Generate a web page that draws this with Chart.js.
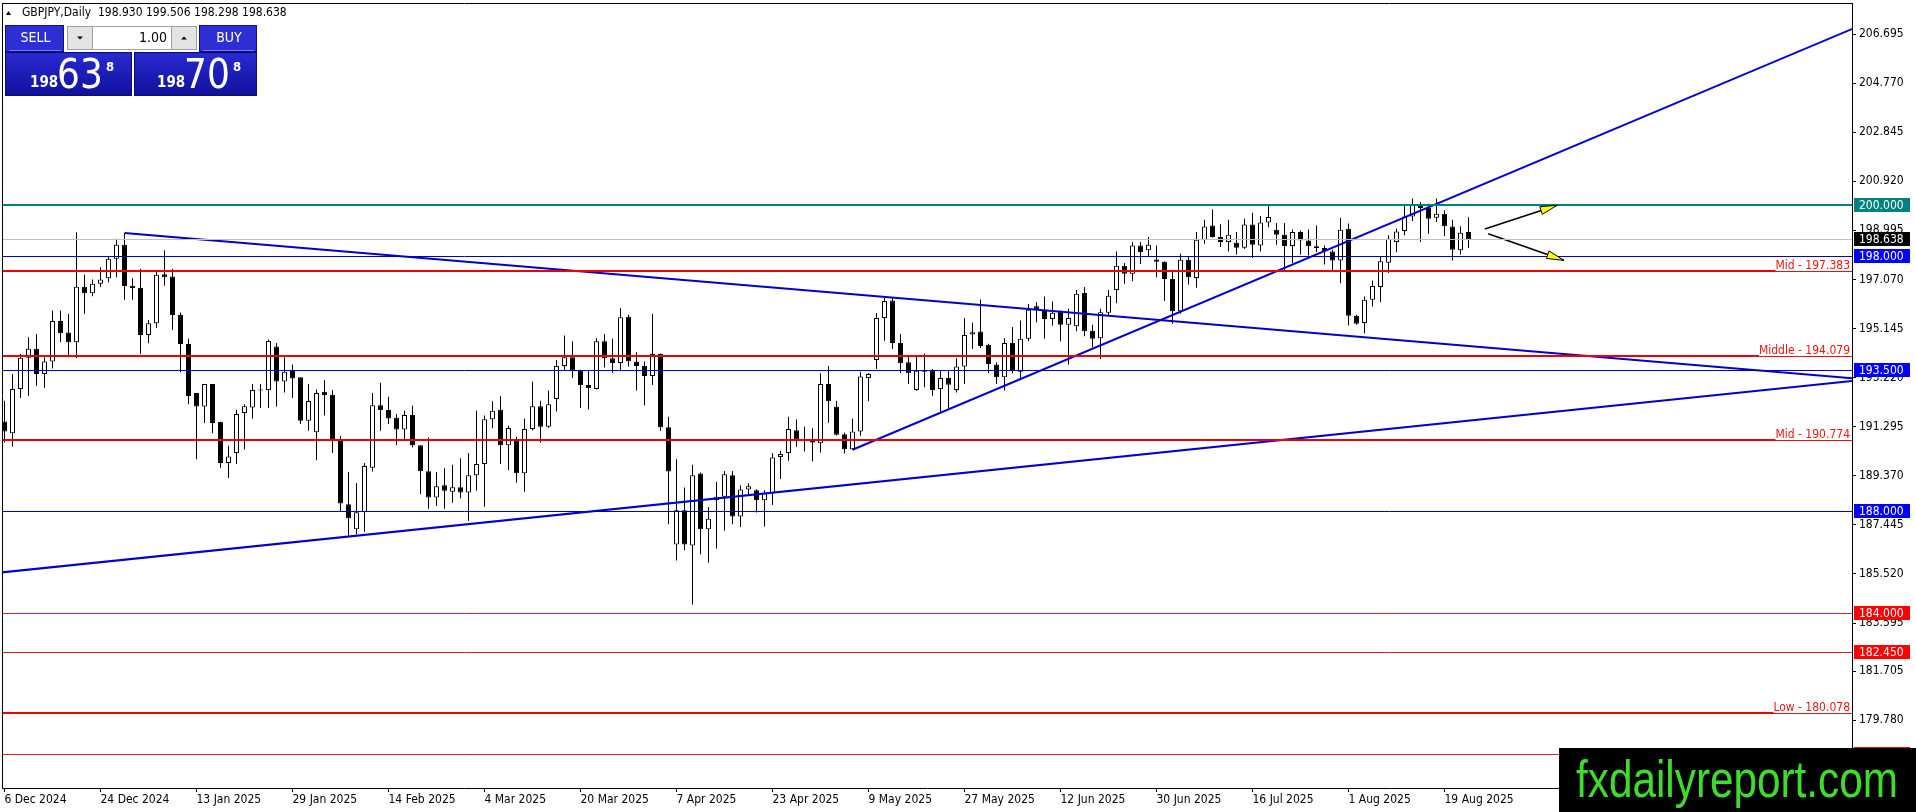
<!DOCTYPE html>
<html>
<head>
<meta charset="utf-8">
<title>GBPJPY Daily</title>
<script src="https://cdn.jsdelivr.net/npm/chart.js@4.4.1/dist/chart.umd.min.js"></script>
<style>
  html, body { margin: 0; padding: 0; background: #fff; overflow: hidden; }
  #wrap { position: relative; width: 1916px; height: 812px; }
</style>
</head>
<body>
<div id="wrap"><canvas id="chart"></canvas></div>
<script>
// daily candles, 6 Dec 2024 .. 22 Aug 2025
const opens = [
  191.50, 191.04, 192.77, 194.00, 194.35, 193.36, 193.85, 195.44, 194.99, 194.61, 196.78, 196.53,
  196.90, 197.12, 197.88, 198.43, 196.82, 196.74, 194.89, 195.35, 197.27, 197.19, 195.68, 194.54,
  192.62, 192.09, 192.97, 191.49, 189.87, 190.26, 191.83, 192.05, 192.71, 192.73, 194.44, 193.07,
  193.52, 193.23, 191.53, 191.08, 192.67, 192.55, 190.81, 188.25, 187.27, 187.94, 189.69, 192.14,
  191.95, 191.65, 191.19, 191.75, 190.57, 189.55, 188.52, 189.00, 188.74, 188.92, 188.71, 189.39,
  189.83, 191.59, 191.96, 190.57, 190.74, 189.47, 191.20, 192.10, 191.29, 192.38, 193.68, 194.02,
  193.49, 192.93, 192.77, 194.65, 193.98, 193.79, 195.61, 193.85, 193.68, 193.28, 194.15, 191.27,
  186.68, 188.02, 186.64, 189.46, 187.27, 188.42, 188.55, 189.39, 187.77, 188.83, 188.80, 188.41,
  188.69, 190.11, 190.26, 191.16, 190.81, 190.74, 190.65, 192.97, 192.08, 191.00, 190.41, 191.11,
  193.20, 193.91, 195.56, 196.24, 194.58, 193.82, 192.73, 193.47, 193.49, 192.77, 193.20, 192.73,
  193.66, 194.91, 195.03, 194.51, 193.73, 193.23, 194.58, 193.45, 194.74, 196.02, 195.88, 195.52,
  195.81, 195.29, 195.23, 196.54, 195.06, 194.76, 195.76, 196.66, 197.61, 197.29, 198.40, 198.21,
  197.85, 197.76, 197.09, 195.82, 197.84, 197.13, 198.63, 199.19, 198.73, 198.54, 198.51, 198.31,
  199.22, 198.40, 199.30, 199.02, 198.82, 198.38, 198.93, 198.60, 198.37, 198.30, 198.17, 197.81,
  199.06, 195.65, 195.36, 196.27, 196.77, 197.72, 198.54, 198.97, 199.54, 200.02, 199.88, 199.49,
  199.65, 199.15, 198.21, 198.930
];
const highs = [
  192.31, 193.36, 194.15, 194.80, 194.93, 194.02, 195.85, 195.85, 195.72, 198.92, 197.25, 197.07,
  197.55, 197.97, 198.67, 198.89, 197.12, 197.49, 195.48, 197.38, 198.21, 197.49, 195.77, 194.74,
  192.62, 192.97, 192.97, 191.49, 190.55, 191.96, 192.18, 192.97, 192.97, 194.71, 194.58, 194.02,
  193.73, 193.23, 192.97, 192.75, 193.13, 192.73, 190.93, 189.52, 189.09, 189.87, 192.62, 193.02,
  192.47, 191.79, 191.92, 192.12, 190.57, 190.87, 189.52, 189.67, 189.80, 190.06, 190.26, 191.92,
  191.73, 192.29, 192.50, 191.33, 190.90, 191.62, 193.06, 192.31, 192.71, 193.91, 194.87, 194.65,
  193.53, 193.53, 194.76, 194.93, 194.74, 195.95, 195.69, 194.21, 193.85, 195.72, 194.17, 191.69,
  190.02, 188.91, 189.80, 189.50, 188.15, 189.14, 189.56, 189.56, 189.00, 189.08, 188.84, 188.80,
  190.26, 190.35, 191.69, 191.58, 191.29, 191.23, 193.39, 193.68, 192.31, 191.07, 191.62, 193.45,
  193.40, 195.75, 196.35, 196.35, 194.93, 194.04, 194.04, 194.17, 193.56, 193.52, 193.53, 193.98,
  195.56, 195.37, 196.28, 194.55, 193.82, 194.76, 195.20, 195.46, 196.11, 196.18, 196.40, 196.20,
  195.85, 195.92, 196.66, 196.77, 195.29, 195.92, 196.66, 198.17, 197.71, 198.54, 198.54, 198.73,
  198.40, 197.78, 197.45, 198.08, 197.95, 198.93, 199.41, 199.81, 199.23, 199.41, 198.93, 199.45,
  199.69, 199.56, 199.95, 199.28, 199.28, 199.03, 198.99, 199.03, 199.19, 198.40, 198.23, 199.49,
  199.26, 195.69, 196.40, 197.03, 197.97, 198.80, 199.06, 200.04, 200.24, 200.11, 200.04, 200.24,
  199.78, 199.41, 199.16, 199.506
];
const lows = [
  190.68, 190.52, 192.42, 192.50, 192.90, 192.81, 193.58, 194.61, 194.02, 193.99, 195.72, 196.41,
  196.77, 196.96, 197.16, 196.27, 196.27, 194.15, 194.57, 195.17, 196.82, 195.09, 193.43, 192.18,
  190.02, 191.44, 191.04, 189.69, 189.28, 189.83, 190.40, 191.61, 192.03, 192.03, 192.09, 192.64,
  192.42, 191.40, 191.14, 189.98, 191.73, 190.26, 187.99, 187.01, 187.08, 187.17, 189.54, 191.14,
  191.40, 190.57, 190.81, 190.48, 188.65, 188.08, 188.19, 188.08, 188.31, 188.49, 187.60, 188.78,
  188.16, 191.23, 189.83, 189.59, 189.10, 188.74, 191.15, 190.68, 191.25, 191.89, 193.52, 193.20,
  192.03, 191.97, 192.75, 193.62, 193.41, 193.47, 193.66, 192.71, 192.13, 192.93, 191.13, 187.47,
  186.05, 186.45, 184.32, 186.29, 185.96, 186.52, 187.21, 187.47, 187.36, 188.65, 187.93, 187.38,
  188.22, 189.24, 189.96, 190.51, 190.32, 189.93, 190.28, 191.45, 190.95, 190.24, 190.39, 190.94,
  192.29, 193.56, 194.67, 194.34, 193.39, 192.97, 192.70, 192.84, 192.51, 191.86, 191.99, 192.64,
  192.97, 194.34, 194.38, 193.39, 192.97, 192.71, 193.39, 193.19, 194.65, 195.39, 194.74, 195.25,
  194.65, 193.73, 195.04, 194.84, 194.41, 193.95, 195.65, 196.14, 196.90, 197.00, 197.68, 197.95,
  197.16, 196.22, 195.33, 195.72, 196.87, 196.74, 198.47, 198.71, 198.34, 198.17, 198.05, 198.26,
  197.91, 198.17, 199.12, 198.43, 197.42, 197.71, 198.05, 198.01, 198.14, 197.66, 197.40, 196.92,
  195.26, 195.29, 194.96, 196.01, 196.18, 197.32, 198.14, 198.80, 199.36, 198.54, 198.86, 199.32,
  198.77, 197.81, 198.05, 198.298
];
const closes = [
  191.11, 192.77, 194.00, 194.35, 193.36, 193.85, 195.44, 194.96, 194.61, 196.78, 196.53, 196.90,
  197.07, 197.88, 198.43, 196.81, 196.73, 194.89, 195.35, 197.25, 197.16, 195.68, 194.54, 192.50,
  192.09, 192.97, 191.44, 189.87, 190.13, 191.79, 192.10, 192.73, 192.75, 194.66, 193.07, 193.45,
  193.19, 191.53, 192.30, 192.62, 192.54, 190.80, 188.28, 187.70, 187.94, 189.75, 192.14, 191.95,
  191.62, 191.19, 191.75, 190.57, 189.55, 188.52, 188.96, 188.78, 188.92, 188.71, 189.39, 189.83,
  191.59, 191.92, 190.57, 191.24, 189.47, 191.20, 192.10, 191.29, 192.18, 193.68, 194.02, 193.49,
  192.93, 192.80, 194.65, 193.98, 193.79, 195.59, 193.86, 193.68, 193.28, 194.15, 191.27, 189.54,
  188.02, 186.68, 189.39, 187.27, 187.69, 188.55, 189.43, 187.77, 188.83, 188.96, 188.41, 188.69,
  190.09, 190.22, 191.20, 190.79, 190.77, 190.68, 192.97, 192.29, 190.98, 190.41, 191.11, 193.26,
  193.36, 195.56, 196.22, 194.58, 193.78, 193.39, 193.49, 193.45, 192.73, 193.20, 192.94, 193.66,
  194.89, 195.00, 194.46, 193.75, 193.23, 194.58, 193.49, 194.74, 195.88, 195.88, 195.52, 195.76,
  195.29, 195.56, 196.51, 195.04, 194.74, 195.78, 196.43, 197.61, 197.29, 198.40, 198.14, 198.43,
  197.76, 197.09, 195.82, 197.84, 197.16, 198.63, 199.15, 198.73, 198.54, 198.82, 198.31, 199.22,
  198.43, 199.30, 199.52, 198.82, 198.38, 198.93, 198.60, 198.37, 198.30, 198.17, 197.81, 199.02,
  195.65, 195.33, 196.27, 196.81, 197.78, 198.67, 198.95, 199.54, 200.02, 199.87, 199.45, 199.65,
  199.16, 198.23, 198.90, 198.638
];

const xTickIndex = [0, 12, 24, 36, 48, 60, 72, 84, 96, 108, 120, 132, 144, 156, 168, 180];
const xTickLabels = [
  "6 Dec 2024", "24 Dec 2024", "13 Jan 2025", "29 Jan 2025", "14 Feb 2025", "4 Mar 2025",
  "20 Mar 2025", "7 Apr 2025", "23 Apr 2025", "9 May 2025", "27 May 2025", "12 Jun 2025",
  "30 Jun 2025", "16 Jul 2025", "1 Aug 2025", "19 Aug 2025"
];
const yTickValues = [
  206.695, 204.770, 202.845, 200.920, 198.995, 197.070, 195.145, 193.220,
  191.295, 189.370, 187.445, 185.520, 183.595, 181.705, 179.780
];

const symbol = "GBPJPY,Daily";
const bidPrice = 198.638;
const askPrice = 198.708;
const lotSize = "1.00";
const resistanceLevel = 200.000;
const blueLevels = [198.000, 193.500, 188.000];
const redLevels = [184.000, 182.450, 178.450];
const midLevels = [197.383, 194.079, 190.774];
const midNames = ["Mid", "Middle", "Mid"];
const lowLevel = 180.078;

// trend lines and arrows as [bar index, price] points
const downTrend = [[15, 198.89], [231, 193.19]];
const baseTrend = [[-1, 185.56], [231, 193.09]];
const riseTrend = [[106, 190.39], [231, 206.90]];
const arrowUp = [[185.04, 199.05], [194.09, 199.98]];
const arrowDown = [[185.46, 198.86], [194.91, 197.82]];

const logoText = "fxdailyreport.com";

const FONT = '"DejaVu Sans Condensed", "DejaVu Sans", sans-serif';
Chart.defaults.font.family = FONT;
Chart.defaults.color = "#000";

const idx = opens.map((_, i) => i);
const bodies = idx.map(i => ({ x: i, y: [opens[i], closes[i]] }));
const wicks = idx.map(i => ({ x: i, y: [lows[i], highs[i]] }));
const bodyFill = idx.map(i => (closes[i] >= opens[i] ? "#ffffff" : "#000000"));
const pts = arr => arr.map(p => ({ x: p[0], y: p[1] }));

function priceParts(p) {
  const s = p.toFixed(3);
  return [s.slice(0, 3), s.slice(4, 6), s.slice(6)];
}

function drawPanel(ctx) {
  ctx.save();
  // SELL / BUY buttons
  [[5, 59, "SELL"], [199, 58, "BUY"]].forEach(([bx, bw, t]) => {
    ctx.fillStyle = "#2e2ed4";
    ctx.fillRect(bx, 25, bw, 27);
    ctx.strokeStyle = "#12127e";
    ctx.lineWidth = 1;
    ctx.strokeRect(bx + 0.5, 25.5, bw - 1, 26);
    ctx.strokeStyle = "#7a7af2";
    ctx.beginPath();
    ctx.moveTo(bx + 4, 50.5);
    ctx.lineTo(bx + bw - 3, 50.5);
    ctx.stroke();
    ctx.fillStyle = "#fff";
    ctx.font = "14px " + FONT;
    ctx.textAlign = "center";
    ctx.textBaseline = "middle";
    ctx.fillText(t, bx + bw / 2 + 1, 38.5);
  });
  // lot spinner
  ctx.fillStyle = "#ffffff";
  ctx.fillRect(64, 25, 135, 27);
  ctx.fillStyle = "#e4e4e4";
  ctx.fillRect(67, 26, 25, 24);
  ctx.fillRect(171, 26, 26, 24);
  ctx.strokeStyle = "#a0a0a0";
  ctx.strokeRect(67.5, 26.5, 129, 23);
  ctx.beginPath();
  ctx.moveTo(92.5, 26); ctx.lineTo(92.5, 50);
  ctx.moveTo(171.5, 26); ctx.lineTo(171.5, 50);
  ctx.stroke();
  ctx.fillStyle = "#000";
  ctx.beginPath();
  ctx.moveTo(77, 36.5); ctx.lineTo(83, 36.5); ctx.lineTo(80, 39.5); ctx.closePath();
  ctx.fill();
  ctx.beginPath();
  ctx.moveTo(181, 39.5); ctx.lineTo(187, 39.5); ctx.lineTo(184, 36.5); ctx.closePath();
  ctx.fill();
  ctx.font = "14px " + FONT;
  ctx.textAlign = "right";
  ctx.textBaseline = "middle";
  ctx.fillText(lotSize, 167, 38.5);
  // price boxes
  const g = ctx.createLinearGradient(0, 52, 0, 96);
  g.addColorStop(0, "#2a2ad2");
  g.addColorStop(1, "#10109c");
  ctx.fillStyle = g;
  ctx.fillRect(5, 52, 127, 44);
  ctx.fillRect(134, 52, 123, 44);
  ctx.strokeStyle = "#0c0c70";
  ctx.strokeRect(5.5, 52.5, 126, 43);
  ctx.strokeRect(134.5, 52.5, 122, 43);
  ctx.fillStyle = "#fff";
  ctx.textAlign = "left";
  ctx.textBaseline = "alphabetic";
  [[bidPrice, 30], [askPrice, 157]].forEach(([p, px]) => {
    const [a, b, c] = priceParts(p);
    ctx.font = "bold 15px " + FONT;
    ctx.fillText(a, px, 87);
    ctx.font = "40px " + FONT;
    ctx.fillText(b, px + 27, 88);
    ctx.font = "bold 13px " + FONT;
    ctx.fillText(c, px + 76, 71);
  });
  ctx.restore();
}

const overlay = {
  id: "overlay",
  afterDatasetsDraw(chart) {
    const { ctx, chartArea: a, scales: { x, y } } = chart;
    ctx.save();
    ctx.beginPath();
    ctx.rect(a.left, a.top, a.right - a.left, a.bottom - a.top);
    ctx.clip();
    const hline = (v, color, w, x0, x1) => {
      let py = Math.round(y.getPixelForValue(v));
      if (w % 2 === 1) py += 0.5;
      ctx.strokeStyle = color;
      ctx.lineWidth = w;
      ctx.beginPath();
      ctx.moveTo(x0, py);
      ctx.lineTo(x1, py);
      ctx.stroke();
      return py;
    };
    hline(bidPrice, "#c0c0c0", 1, a.left, a.right);
    blueLevels.forEach(v => hline(v, "#0000c0", 1, a.left, a.right));
    redLevels.forEach(v => hline(v, "#d42020", 1, a.left, a.right));
    hline(resistanceLevel, "#008080", 2, a.left, a.right);

    ctx.font = "12px " + FONT;
    ctx.textAlign = "right";
    ctx.textBaseline = "alphabetic";
    const tagged = midLevels.map((v, k) => [v, midNames[k]]).concat([[lowLevel, "Low"]]);
    tagged.forEach(([v, name]) => {
      const txt = name + " - " + v.toFixed(3);
      const tx = a.right - 2;
      const left = tx - ctx.measureText(txt).width;
      hline(v, "#e01414", 1, a.left, a.right);
      const py = Math.round(y.getPixelForValue(v));
      hline(v, "#ee0000", 2, a.left, left);
      ctx.fillStyle = "#e81515";
      ctx.fillText(txt, tx, py - 2);
    });

    [arrowUp, arrowDown].forEach(arr => {
      const [p, q] = arr.map(([i, v]) => [x.getPixelForValue(i), y.getPixelForValue(v)]);
      const ang = Math.atan2(q[1] - p[1], q[0] - p[0]);
      const L = 17, W = 4;
      const bx = q[0] - L * Math.cos(ang), by = q[1] - L * Math.sin(ang);
      ctx.beginPath();
      ctx.moveTo(q[0], q[1]);
      ctx.lineTo(bx - W * Math.sin(ang), by + W * Math.cos(ang));
      ctx.lineTo(bx + W * Math.sin(ang), by - W * Math.cos(ang));
      ctx.closePath();
      ctx.fillStyle = "#ffff00";
      ctx.fill();
      ctx.strokeStyle = "#000";
      ctx.lineWidth = 1;
      ctx.stroke();
    });
    ctx.restore();
  },
  afterDraw(chart) {
    const { ctx, chartArea: a, scales: { y } } = chart;
    ctx.save();
    // top and left frame
    ctx.strokeStyle = "#000";
    ctx.lineWidth = 1;
    ctx.beginPath();
    ctx.moveTo(a.left, a.top + 0.5);
    ctx.lineTo(a.right, a.top + 0.5);
    ctx.moveTo(a.left + 0.5, a.top);
    ctx.lineTo(a.left + 0.5, a.bottom);
    ctx.stroke();

    // price tags on the axis
    const tag = (v, bg) => {
      const py = Math.round(y.getPixelForValue(v));
      ctx.fillStyle = bg;
      ctx.fillRect(a.right + 2, py - 7, 56, 14);
      ctx.fillStyle = "#fff";
      ctx.font = "12px " + FONT;
      ctx.textAlign = "left";
      ctx.textBaseline = "middle";
      ctx.fillText(v.toFixed(3), a.right + 7, py + 0.5);
    };
    redLevels.forEach(v => tag(v, "#ff0000"));
    blueLevels.forEach(v => tag(v, "#0000ff"));
    tag(resistanceLevel, "#008080");
    tag(bidPrice, "#000000");

    // header line
    const last = opens.length - 1;
    ctx.fillStyle = "#000";
    ctx.beginPath();
    ctx.moveTo(6, 15); ctx.lineTo(8.5, 11); ctx.lineTo(11, 15); ctx.closePath();
    ctx.fill();
    ctx.font = "12px " + FONT;
    ctx.textAlign = "left";
    ctx.textBaseline = "middle";
    ctx.fillText(symbol + "  " + [opens[last], highs[last], lows[last], closes[last]]
      .map(v => v.toFixed(3)).join(" "), 22, 13);

    drawPanel(ctx);

    // logo
    ctx.fillStyle = "#000";
    ctx.fillRect(1559, 748, 357, 64);
    ctx.fillStyle = "#3fdc2c";
    ctx.font = '52px "Liberation Sans", Arial, sans-serif';
    ctx.textAlign = "left";
    ctx.textBaseline = "alphabetic";
    ctx.fillText(logoText, 1576, 797, 322);
    ctx.restore();
  }
};

const ctx = document.getElementById("chart");
// eslint-disable-next-line no-unused-vars
const chart = new Chart(ctx, {
  type: "bar",
  data: {
    datasets: [
      { type: "line", data: pts(arrowUp), borderColor: "#000", borderWidth: 1.5, pointRadius: 0, clip: 0, order: 0 },
      { type: "line", data: pts(arrowDown), borderColor: "#000", borderWidth: 1.5, pointRadius: 0, clip: 0, order: 0 },
      { type: "line", data: pts(downTrend), borderColor: "#0000cd", borderWidth: 2, pointRadius: 0, clip: 0, order: 1 },
      { type: "line", data: pts(baseTrend), borderColor: "#0000cd", borderWidth: 2, pointRadius: 0, clip: 0, order: 1 },
      { type: "line", data: pts(riseTrend), borderColor: "#0000cd", borderWidth: 2, pointRadius: 0, clip: 0, order: 1 },
      {
        label: "body", data: bodies, backgroundColor: bodyFill, borderColor: "#000",
        borderWidth: 1, borderSkipped: false, barThickness: 5, grouped: false,
        minBarLength: 1, inflateAmount: 0, order: 2
      },
      {
        label: "wick", data: wicks, backgroundColor: "#000", borderWidth: 0,
        barThickness: 1, grouped: false, inflateAmount: 0, order: 3
      }
    ]
  },
  options: {
    responsive: true,
    maintainAspectRatio: false,
    animation: false,
    events: [],
    layout: { padding: { left: 2, top: 3, right: 0, bottom: 0 } },
    plugins: {
      legend: { display: false },
      tooltip: { enabled: false }
    },
    scales: {
      x: {
        type: "linear",
        min: -0.3125,
        max: 230.9375,
        offset: false,
        grid: { display: true, offset: false, drawOnChartArea: false, drawTicks: true, tickLength: 4, color: "#000" },
        border: { display: true, color: "#000", width: 1 },
        ticks: {
          autoSkip: false, maxRotation: 0, minRotation: 0, align: "start", padding: 1,
          color: "#000", font: { size: 12 },
          callback: v => {
            const k = xTickIndex.indexOf(v);
            return k < 0 ? "" : xTickLabels[k];
          }
        },
        afterBuildTicks: s => { s.ticks = xTickIndex.map(v => ({ value: v })); },
        afterFit: s => { s.height = 24; s.paddingLeft = 0; s.paddingRight = 0; }
      },
      y: {
        type: "linear",
        position: "right",
        min: 177.1264,
        max: 207.9107,
        grid: { display: true, drawOnChartArea: false, drawTicks: true, tickLength: 4, color: "#000" },
        border: { display: true, color: "#000", width: 1 },
        ticks: {
          autoSkip: false, padding: 3, color: "#000", font: { size: 12 },
          callback: v => v.toFixed(3)
        },
        afterBuildTicks: s => { s.ticks = yTickValues.map(v => ({ value: v })); },
        afterFit: s => { s.width = 64; s.paddingTop = 0; s.paddingBottom = 0; }
      }
    }
  },
  plugins: [overlay]
});
</script>
</body>
</html>
